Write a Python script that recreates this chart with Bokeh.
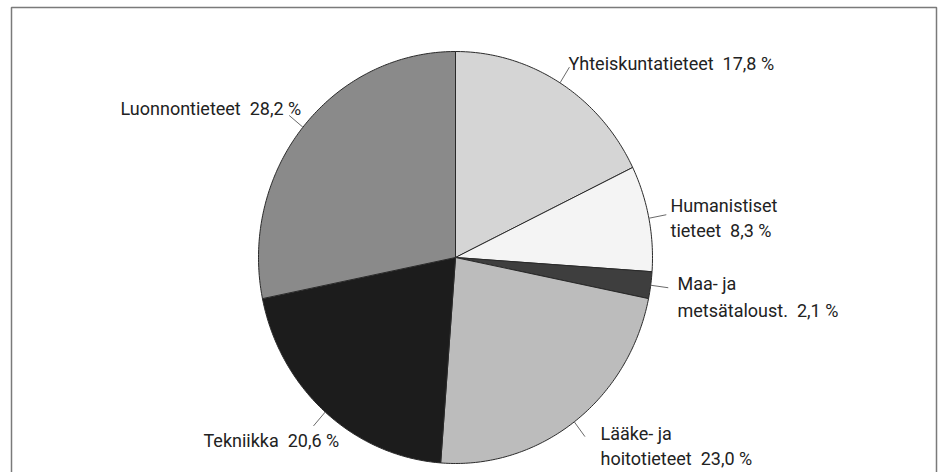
import numpy as np
from bokeh.plotting import figure
from bokeh.models import Range1d
from bokeh.embed import file_html
from bokeh.resources import INLINE
from bokeh.core.properties import value

# ---------------- data ----------------
categories = ["Yhteiskuntatieteet", "Humanistiset tieteet", "Maa- ja metsätaloust.",
              "Lääke- ja hoitotieteet", "Tekniikka", "Luonnontieteet"]
shares = [17.8, 8.3, 2.1, 23.0, 20.6, 28.2]
# label text lines (last line gets the percentage appended)
label_heads = [["Yhteiskuntatieteet"], ["Humanistiset", "tieteet"], ["Maa- ja", "metsätaloust."],
               ["Lääke- ja", "hoitotieteet"], ["Tekniikka"], ["Luonnontieteet"]]

# ---------------- styles / layout ----------------
colors = ["#d5d5d5", "#f4f4f4", "#3e3e3e", "#bcbcbc", "#1c1c1c", "#8a8a8a"]
W, H = 939, 472
cx, cy, rx, ry = 455, 257, 197, 206
label_pos = [(568, 63), (670, 205), (677, 283), (600, 433), (203, 440), (120, 108)]
line_gaps = [0, 25, 27, 25, 0, 0]
FONT = "Roboto"

p = figure(width=W, height=H, x_range=Range1d(0, W), y_range=Range1d(H, 0),
           output_backend="svg", toolbar_location=None, min_border=0,
           x_axis_location=None, y_axis_location=None, outline_line_color=None,
           background_fill_color="white", border_fill_color="white")
p.grid.visible = False

# frame (top, left, right lines; bottom is cut off)
p.line(x=[11, 11, 936, 936], y=[520, 7, 7, 520], line_color="#7a7a7a", line_width=1.5)

# slices
vals = np.array(shares, dtype=float)
frac = vals / vals.sum()
ends = np.cumsum(frac) * 2 * np.pi
starts = ends - frac * 2 * np.pi
xs, ys = [], []
for a0, a1 in zip(starts, ends):
    t = np.linspace(a0, a1, max(8, int((a1 - a0) * 80)))
    xs.append(np.concatenate([[cx], cx + rx * np.sin(t)]))
    ys.append(np.concatenate([[cy], cy - ry * np.cos(t)]))
p.patches(xs=xs, ys=ys, fill_color=colors, line_color="#2a2a2a", line_width=1)

# leader lines at slice mid-angles
mids = (starts + ends) / 2
lx0 = cx + rx * np.sin(mids)
ly0 = cy - ry * np.cos(mids)
lx1 = cx + rx * 1.09 * np.sin(mids)
ly1 = cy - ry * 1.09 * np.cos(mids)
p.segment(x0=lx0, y0=ly0, x1=lx1, y1=ly1, line_color="#6a6a6a", line_width=1)

# labels
tx, ty, tt = [], [], []
for heads, v, (x0, y0), gap in zip(label_heads, shares, label_pos, line_gaps):
    pct = f"{v:.1f}".replace(".", ",") + "\u00a0%"
    for i, h in enumerate(heads):
        txt = h
        if i == len(heads) - 1:
            txt = h + "\u00a0\u00a0" + pct
        tx.append(x0)
        ty.append(y0 + i * gap)
        tt.append(txt)
p.text(x=tx, y=ty, text=tt, text_font=value(FONT), text_font_size="18px",
       text_color="#222222", text_align="left", text_baseline="alphabetic")

open("out.html", "w").write(file_html(p, INLINE))
